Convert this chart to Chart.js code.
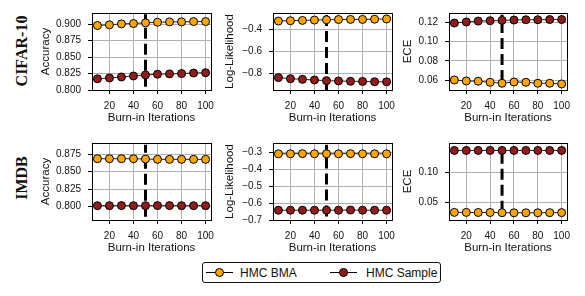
<!DOCTYPE html>
<html>
<head>
<meta charset="utf-8">
<script src="https://cdn.jsdelivr.net/npm/chart.js@4.4.1/dist/chart.umd.min.js"></script>
<style>
  html, body { margin: 0; padding: 0; background: #fff; overflow: hidden; }
  #wrap { position: relative; width: 585px; height: 296px; font-family: 'Liberation Sans', Arial, sans-serif; color: #111; }
  #wrap canvas { position: absolute; }
  .rowlabel { position: absolute; font: bold 16px 'Liberation Serif', serif; transform: translate(-50%, -50%) rotate(-90deg); white-space: nowrap; }
  .legend { position: absolute; left: 202px; top: 262px; width: 237px; height: 19px; border: 1px solid #111; border-radius: 3px; }
  .lline { position: absolute; width: 27px; height: 0; border-top: 1.5px solid #000; top: 9px; }
  .ldot { position: absolute; width: 7px; height: 7px; border: 1px solid #000; border-radius: 50%; top: 5px; }
  .ltext { position: absolute; top: 0; line-height: 20px; font-size: 12px; white-space: nowrap; }
</style>
</head>
<body>
<div id="wrap">
  <div class="rowlabel" style="left:22px;top:51px">CIFAR-10</div>
  <div class="rowlabel" style="left:22px;top:178px">IMDB</div>
  <div class="legend">
    <span class="lline" style="left:3px"></span>
    <span class="ldot" style="left:12px;background:#ffa500"></span>
    <span class="ltext" style="left:37px">HMC BMA</span>
    <span class="lline" style="left:127px"></span>
    <span class="ldot" style="left:136px;background:#921c1c"></span>
    <span class="ltext" style="left:163px">HMC Sample</span>
  </div>
</div>
<script>
/* ---- Daten ---- */
const iters = [10, 20, 30, 40, 50, 60, 70, 80, 90, 100];
const xTicks = [20, 40, 60, 80, 100];
const burnIn = 50;

const cifarAccBma    = [0.898, 0.899, 0.9005, 0.901, 0.902, 0.903, 0.9035, 0.9035, 0.904, 0.904];
const cifarAccSample = [0.817, 0.8183, 0.8198, 0.8213, 0.8229, 0.824, 0.8245, 0.825, 0.8258, 0.8263];
const cifarLlBma     = [-0.320, -0.317, -0.314, -0.311, -0.308, -0.306, -0.305, -0.305, -0.303, -0.301];
const cifarLlSample  = [-0.840, -0.850, -0.856, -0.862, -0.868, -0.871, -0.874, -0.875, -0.878, -0.879];
const cifarEceBma    = [0.0603, 0.0593, 0.059, 0.0579, 0.0569, 0.0582, 0.0579, 0.0569, 0.0569, 0.0562];
const cifarEceSample = [0.1194, 0.1205, 0.1214, 0.1218, 0.1221, 0.1225, 0.1228, 0.1228, 0.123, 0.123];

const imdbAccBma     = [0.8683, 0.8683, 0.8683, 0.8683, 0.8679, 0.8674, 0.8674, 0.8674, 0.8674, 0.8674];
const imdbAccSample  = [0.8014, 0.8014, 0.8015, 0.8014, 0.8014, 0.8015, 0.8015, 0.8014, 0.8014, 0.8014];
const imdbLlBma      = [-0.308, -0.308, -0.307, -0.308, -0.308, -0.308, -0.307, -0.308, -0.308, -0.308];
const imdbLlSample   = [-0.642, -0.642, -0.642, -0.642, -0.642, -0.642, -0.641, -0.642, -0.642, -0.642];
const imdbEceBma     = [0.0330, 0.0330, 0.0328, 0.0328, 0.0325, 0.0323, 0.0323, 0.0323, 0.0325, 0.0326];
const imdbEceSample  = [0.137, 0.137, 0.137, 0.137, 0.137, 0.137, 0.137, 0.137, 0.137, 0.137];

/* Achsen: Ticks, Bereich, Ausdehnung der Burn-in-Linie */
const cifarAccTicks = [0.800, 0.825, 0.850, 0.875, 0.900];
const cifarLlTicks  = [-0.8, -0.6, -0.4];
const cifarEceTicks = [0.06, 0.08, 0.10, 0.12];
const imdbAccTicks  = [0.800, 0.825, 0.850, 0.875];
const imdbLlTicks   = [-0.7, -0.6, -0.5, -0.4, -0.3];
const imdbEceTicks  = [0.05, 0.10];

const cifarAccRange = [0.800, 0.917];   const cifarAccVline = [0.805, 0.915];
const cifarLlRange  = [-0.954, -0.246]; const cifarLlVline  = [-0.954, -0.246];
const cifarEceRange = [0.0499, 0.1298]; const cifarEceVline = [0.0593, 0.128];
const imdbAccRange  = [0.781, 0.8907];  const imdbAccVline  = [0.7857, 0.8883];
const imdbLlRange   = [-0.700, -0.244]; const imdbLlVline   = [-0.680, -0.254];
const imdbEceRange  = [0.0202, 0.1495]; const imdbEceVline  = [0.0342, 0.1353];

/* ---- Layout ---- */
const cols = [
  { plotLeft: 92,  plotRight: 211, titleX: 46 },
  { plotLeft: 273, plotRight: 392, titleX: 229.5 },
  { plotLeft: 449, plotRight: 567, titleX: 408 },
];
const rows = [{ top: 13, bottom: 90 }, { top: 143, bottom: 220 }];

const panels = [
  { row: 0, col: 0, title: 'Accuracy',       dec: 3, bma: cifarAccBma, sample: cifarAccSample, ticks: cifarAccTicks, range: cifarAccRange, vline: cifarAccVline },
  { row: 0, col: 1, title: 'Log-Likelihood', dec: 1, bma: cifarLlBma,  sample: cifarLlSample,  ticks: cifarLlTicks,  range: cifarLlRange,  vline: cifarLlVline },
  { row: 0, col: 2, title: 'ECE',            dec: 2, bma: cifarEceBma, sample: cifarEceSample, ticks: cifarEceTicks, range: cifarEceRange, vline: cifarEceVline },
  { row: 1, col: 0, title: 'Accuracy',       dec: 3, bma: imdbAccBma,  sample: imdbAccSample,  ticks: imdbAccTicks,  range: imdbAccRange,  vline: imdbAccVline },
  { row: 1, col: 1, title: 'Log-Likelihood', dec: 1, bma: imdbLlBma,   sample: imdbLlSample,   ticks: imdbLlTicks,   range: imdbLlRange,   vline: imdbLlVline },
  { row: 1, col: 2, title: 'ECE',            dec: 2, bma: imdbEceBma,  sample: imdbEceSample,  ticks: imdbEceTicks,  range: imdbEceRange,  vline: imdbEceVline },
];

const TXT = '#111';
const GRID = '#b0b0b0';
Chart.defaults.font.family = "'Liberation Sans', Arial, sans-serif";
Chart.defaults.color = TXT;

/* Rahmen um die Plotfläche (alle vier Seiten) */
const frame = {
  id: 'frame',
  afterDraw(chart) {
    const { ctx, chartArea: a } = chart;
    const l = Math.round(a.left - 0.5) + 0.5, r = Math.round(a.right - 0.5) + 0.5;
    const t = Math.round(a.top - 0.5) + 0.5, b = Math.round(a.bottom - 0.5) + 0.5;
    ctx.save();
    ctx.strokeStyle = '#000';
    ctx.lineWidth = 1;
    ctx.strokeRect(l, t, r - l, b - t);
    ctx.restore();
  },
};

const fmt = (v, dec) => v.toFixed(dec).replace('-', '\u2212');
const wrap = document.getElementById('wrap');

function makePanel(p) {
  const col = cols[p.col], row = rows[p.row];
  const padTop = 16, padRight = 14, xAxisH = 35;
  const left = Math.round(col.titleX - 6.9);
  const yAxisW = col.plotLeft - left;
  const w = col.plotRight - left + padRight;
  const h = padTop + (row.bottom - row.top) + xAxisH;

  const canvas = document.createElement('canvas');
  canvas.width = w; canvas.height = h;
  canvas.style.left = left + 'px';
  canvas.style.top = (row.top - padTop) + 'px';
  canvas.style.width = w + 'px';
  canvas.style.height = h + 'px';
  wrap.appendChild(canvas);

  const series = (vals, fill, order) => ({
    data: iters.map((x, i) => ({ x, y: vals[i] })),
    borderColor: '#222', borderWidth: 1,
    pointRadius: 4, pointBackgroundColor: fill, pointBorderColor: '#000', pointBorderWidth: 1,
    order,
  });

  new Chart(canvas, {
    type: 'line',
    data: {
      datasets: [
        series(p.bma, '#ffa500', 0),
        series(p.sample, '#921c1c', 1),
        {
          data: [{ x: burnIn, y: p.vline[0] }, { x: burnIn, y: p.vline[1] }],
          borderColor: '#000', borderWidth: 3, borderDash: [11, 5], borderCapStyle: 'butt',
          pointRadius: 0, order: 2,
        },
      ],
    },
    options: {
      responsive: false, animation: false, devicePixelRatio: 1,
      layout: { padding: { top: padTop, right: padRight, left: 0, bottom: 0 } },
      plugins: { legend: { display: false }, tooltip: { enabled: false } },
      scales: {
        x: {
          type: 'linear', min: 5.5, max: 104.5,
          afterBuildTicks: s => { s.ticks = xTicks.map(v => ({ value: v })); },
          afterFit: s => { s.height = xAxisH; },
          border: { display: false },
          grid: { color: GRID, lineWidth: 1, tickColor: '#000', tickLength: 4 },
          ticks: { padding: 6, maxRotation: 0, font: { size: 10 }, color: TXT, callback: v => String(v) },
          title: { display: true, text: 'Burn-in Iterations', padding: 0, font: { size: 11.5 }, color: TXT },
        },
        y: {
          min: p.range[0], max: p.range[1],
          afterBuildTicks: s => { s.ticks = p.ticks.map(v => ({ value: v })); },
          afterFit: s => { s.width = yAxisW; },
          border: { display: false },
          grid: { color: GRID, lineWidth: 1, tickColor: '#000', tickLength: 4 },
          ticks: { padding: 7, font: { size: 10 }, color: TXT, callback: v => fmt(v, p.dec) },
          title: { display: true, text: p.title, padding: 0, font: { size: 11.5 }, color: TXT },
        },
      },
    },
    plugins: [frame],
  });
}

panels.forEach(makePanel);
</script>
</body>
</html>
